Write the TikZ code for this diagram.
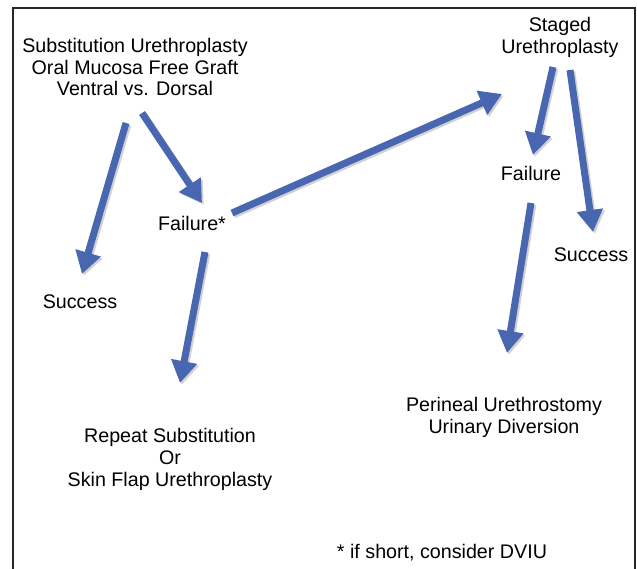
\documentclass[tikz,border=0pt]{standalone}
\usepackage{fontspec}
\setmainfont{Liberation Sans}
\usepackage{tikz}
\usetikzlibrary{arrows.meta,positioning,calc}
\definecolor{arrblue}{RGB}{72,103,176}

\begin{document}
\begin{tikzpicture}[x=0.25mm,y=-0.25mm,
			txt/.style={align=center,inner sep=0pt,font=\fontsize{14}{15.6}\selectfont},
			arr/.style={draw=arrblue,line width=1.75mm,-{Triangle[length=5.5mm,width=6.25mm]}},
			arrshade/.style={draw=black!18,line width=1.75mm,-{Triangle[length=5.5mm,width=6.25mm]},
				transform canvas={xshift=0.45mm,yshift=-0.45mm}}]
		\useasboundingbox (0,0) rectangle (637,569);
		% frame, open at the bottom
		\draw [black!85,line width=0.5mm] (13,580) -- (13,8) -- (635,8) -- (635,580);
		% texts
		\path 	(135,67) 	node 	(subst) [txt] {Substitution Urethroplasty\\Oral Mucosa Free Graft\\Ventral vs. Dorsal}
		        (560,37) 	node 	(staged) [txt] {Staged\\Urethroplasty}
		        (192,223) 	node 	(failA) [txt] {Failure*}
		        (80,302) 	node 	(succA) [txt] {Success}
		        (531,173) 	node 	(failB) [txt] {Failure}
		        (591,255) 	node 	(succB) [txt] {Success}
		        (504,417) 	node 	(perin) [txt] {Perineal Urethrostomy\\Urinary Diversion}
		        (170,459) 	node 	(repeat) [txt] {Repeat Substitution\\Or\\Skin Flap Urethroplasty}
		        (442,553) 	node 	(note) [txt] {* if short, consider DVIU};
		% arrow ends
		\coordinate (sA1) at (126,123);  \coordinate (tA1) at (82,274);
		\coordinate (sA2) at (142,113);  \coordinate (tA2) at (202,203);
		\coordinate (sA3) at (232,213);  \coordinate (tA3) at (502,94);
		\coordinate (sA4) at (205,252);  \coordinate (tA4) at (180,383);
		\coordinate (sB1) at (553,67);   \coordinate (tB1) at (533,155);
		\coordinate (sB2) at (570,70);   \coordinate (tB2) at (593,232);
		\coordinate (sB3) at (531,203);  \coordinate (tB3) at (507,353);
		\foreach \s/\t in {sA1/tA1,sA2/tA2,sA3/tA3,sA4/tA4,sB1/tB1,sB2/tB2,sB3/tB3}
			\draw [arrshade] (\s) -- (\t);
		\foreach \s/\t in {sA1/tA1,sA2/tA2,sA3/tA3,sA4/tA4,sB1/tB1,sB2/tB2,sB3/tB3}
			\draw [arr] (\s) -- (\t);
	\end{tikzpicture}
\end{document}
